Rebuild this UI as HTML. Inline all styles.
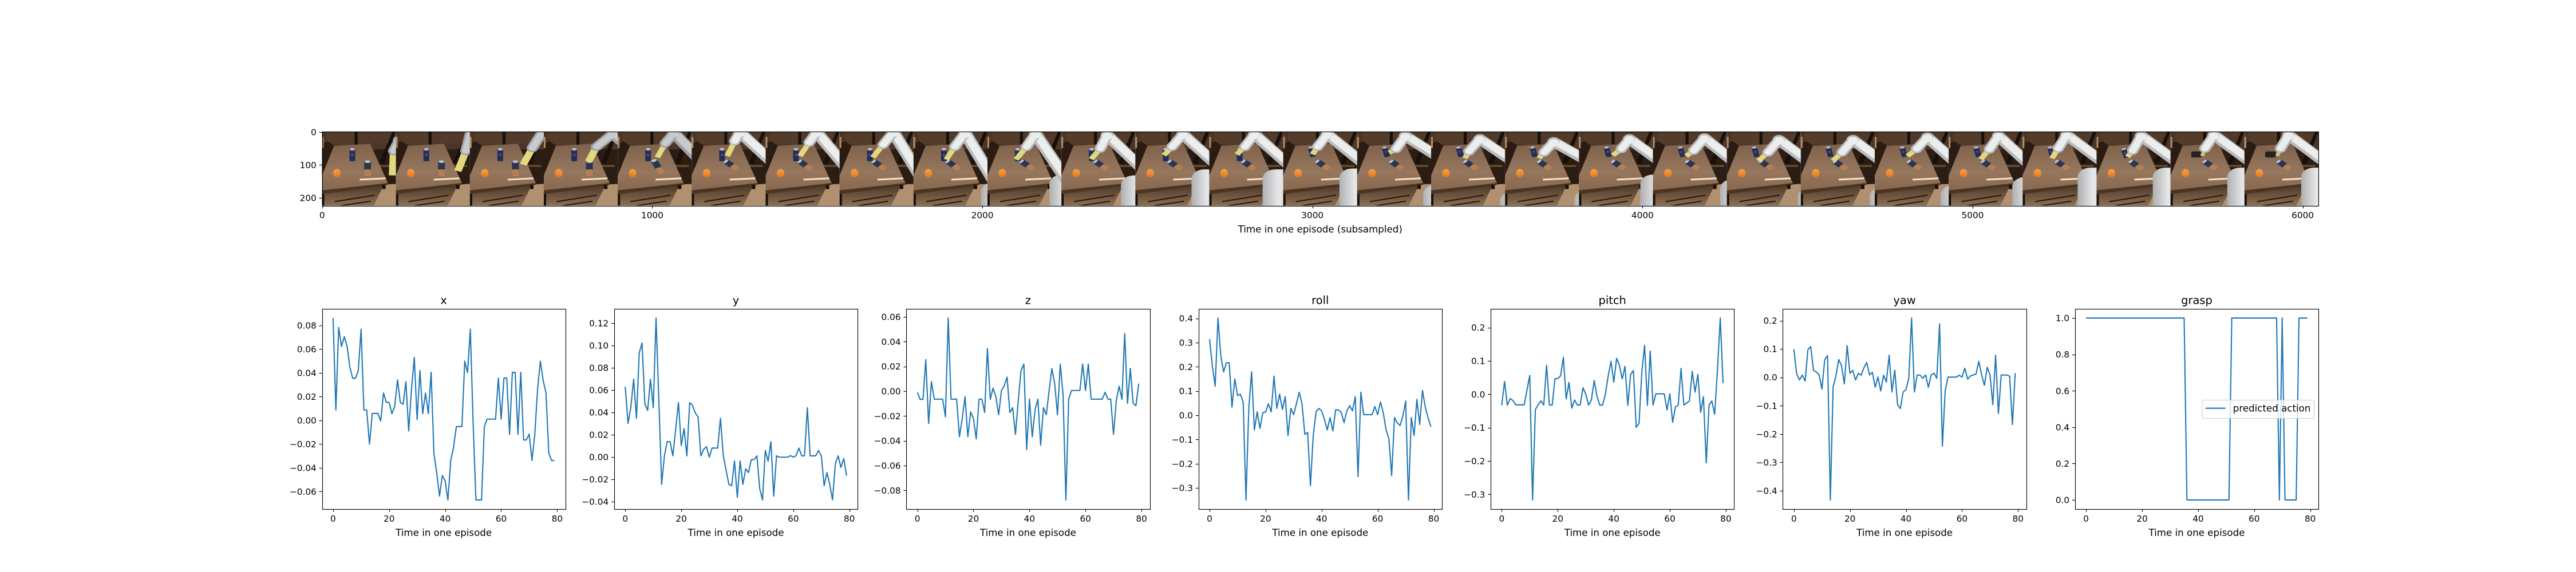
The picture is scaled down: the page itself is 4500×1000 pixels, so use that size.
<!DOCTYPE html>
<html lang="en">
<head>
<meta charset="utf-8">
<title>Predicted actions over one episode</title>
<style>
html,body{margin:0;padding:0;background:#fff;}
svg text{font-family:"DejaVu Sans","Liberation Sans",sans-serif;fill:#000;}
</style>
</head>
<body>
<svg id="figure" xmlns="http://www.w3.org/2000/svg" width="4500" height="1000" viewBox="0 0 4500 1000" style="display:block;background:#fff">
<defs>
<linearGradient id="tableFill" x1="0" y1="0" x2="0" y2="1"><stop offset="0" stop-color="#7f614b"/><stop offset=".6" stop-color="#96775e"/><stop offset="1" stop-color="#87684f"/></linearGradient>
<linearGradient id="drawerFill" x1="0" y1="0" x2="0" y2="1"><stop offset="0" stop-color="#4b3727"/><stop offset="1" stop-color="#8d6f52"/></linearGradient>
<linearGradient id="orangeFill" x1="0" y1="0" x2="0" y2="1"><stop offset="0" stop-color="#f7a03a"/><stop offset=".6" stop-color="#ee8730"/><stop offset="1" stop-color="#c9792f"/></linearGradient>
<linearGradient id="baseFill" x1="0" y1="0" x2="1" y2="0"><stop offset="0" stop-color="#aeb0b2"/><stop offset=".45" stop-color="#e6e7e8"/><stop offset="1" stop-color="#d2d3d5"/></linearGradient>
<g id="scene">
<rect x="0" y="0" width="129" height="173" fill="#4b3526"/>
<rect x="8" y="0" width="48" height="30" fill="#543c2b"/>
<rect x="63" y="0" width="60" height="28" fill="#513a29"/>
<polygon points="0,28 10,22 22,33 0,104" fill="#2a1c12"/>
<rect x="0" y="12" width="3" height="26" fill="#b48c62"/>
<polygon points="88,42 108,40 129,42 129,126 112,126" fill="#2b1d13"/>
<rect x="57" y="0" width="5" height="30" fill="#17100b"/>
<polygon points="123,0 129,0 108,76 100,72" fill="#17100b"/>
<rect x="100" y="78" width="24" height="4" fill="#6e5230"/>
<polygon points="85,125 129,122 129,173 85,173" fill="#b1906f"/>
<polygon points="4,140 108,124 90,173 4,173" fill="url(#drawerFill)"/>
<rect x="0" y="138" width="4" height="35" fill="#17100b"/>
<polygon points="21,33 84,28 115,120 0,138 0,102" fill="url(#tableFill)"/>
<polygon points="0,137 115,120 115,124 100,128 0,146" fill="#4a3423"/>
<polygon points="22,162 92,147 92,150 22,165" fill="#2a1c12"/>
<polygon points="30,172 85,161 85,164 40,173" fill="#2a1c12"/>
<rect x="105" y="124" width="6" height="10" fill="#17100b"/>
<polygon points="66,110 111,107 111,111 66,114" fill="#f3e4c8"/>
<ellipse cx="26" cy="97" rx="6.6" ry="10" fill="url(#orangeFill)"/>
</g>
<g id="canPepsi">
<rect x="-5" y="-15" width="10" height="30" rx="2" fill="#1d2f5c"/>
<ellipse cx="0" cy="-13" rx="4.6" ry="3" fill="#b9bcc2"/>
<ellipse cx="0" cy="0" rx="2.6" ry="3" fill="#7d3a4a"/>
</g>
<g id="canRed">
<rect x="-6" y="-18" width="12" height="36" rx="2" fill="#2a3554"/>
<rect x="-6" y="2" width="12" height="16" rx="2" fill="#b47f55"/>
<ellipse cx="0" cy="-16" rx="5.4" ry="3" fill="#bfc2c6"/>
</g>
</defs>
<rect x="0" y="0" width="4500" height="1000" fill="#ffffff"/>
</svg>
<script>
/* ---------- chart data ---------- */
const categories = [0,1,2,3,4,5,6,7,8,9,10,11,12,13,14,15,16,17,18,19,20,21,22,23,24,25,26,27,28,29,30,31,32,33,34,35,36,37,38,39,40,41,42,43,44,45,46,47,48,49,50,51,52,53,54,55,56,57,58,59,60,61,62,63,64,65,66,67,68,69,70,71,72,73,74,75,76,77,78,79];
const seriesX = [.0862,.0087,.0782,.0622,.0704,.0625,.0447,.0354,.0354,.0418,
.0768,.0087,.0087,-.0200,.0058,.0058,.0058,-.0006,.0231,.0152,
.0151,.0056,.0117,.0341,.0151,.0135,.0325,-.0090,.0263,.0530,
.0006,.0420,.0056,.0231,.0056,.0405,-.0277,-.0442,-.0638,-.0465,
-.0510,-.0671,-.0338,-.0229,-.0053,-.0053,-.0053,.0498,.0402,.0768,
-.0026,-.0671,-.0671,-.0671,-.0053,.0010,.0010,.0010,.0010,.0356,
.0010,.0356,.0356,-.0119,.0404,.0404,-.0119,.0404,-.0165,-.0165,
-.0117,-.0338,-.0122,.0263,.0498,.0335,.0231,-.0277,-.0338,-.0338];
const seriesY = [.0630,.0301,.0446,.0697,.0347,.0933,.1023,.0477,.0417,.0697,
.0441,.1247,.0506,-.0246,.0014,.0138,.0138,.0010,.0249,.0488,
.0102,.0256,.0010,.0488,.0463,.0395,.0360,.0010,.0070,.0092,
-.0002,.0080,.0080,.0080,.0348,.0014,-.0118,-.0246,-.0258,-.0036,
-.0362,-.0036,-.0246,-.0106,-.0140,-.0024,-.0024,.0010,-.0284,-.0386,
.0058,-.0038,.0138,-.0352,.0010,-.0002,-.0002,-.0002,-.0002,.0012,
-.0002,.0012,.0080,.0010,.0010,.0442,.0010,.0010,.0010,.0058,
.0010,-.0258,-.0140,-.0246,-.0386,-.0058,.0010,-.0094,-.0014,-.0167];
const seriesZ = [-.0009,-.0066,-.0066,.0255,-.0261,.0078,-.0064,-.0064,-.0064,-.0064,
-.0207,.0591,-.0064,-.0064,-.0064,-.0367,-.0221,-.0044,-.0367,-.0167,
-.0221,-.0385,-.0064,-.0064,-.0172,.0344,-.0066,.0025,-.0044,-.0190,
.0006,.0044,.0114,-.0172,-.0133,-.0348,-.0075,.0167,.0219,-.0471,
-.0064,-.0367,-.0149,-.0064,-.0436,-.0133,-.0190,.0002,.0183,.0063,
-.0190,.0219,-.0029,-.0878,-.0063,.0006,.0006,.0006,.0006,.0219,
.0006,.0219,-.0064,-.0064,-.0064,-.0064,-.0064,-.0009,-.0064,-.0064,
-.0348,-.0075,.0041,-.0066,.0466,-.0098,.0184,-.0098,-.0117,.0061];
const seriesRoll = [.3137,.2028,.1203,.4017,.2461,.1792,.2170,.2170,.0338,.1502,
.0810,.0873,.0535,-.3498,.0299,.1792,-.0605,.0142,-.0542,.0102,
.0142,.0472,.0142,.1619,.0283,.0873,.0244,.0770,-.0841,.0283,
.0024,.0472,.0951,.0472,-.0786,-.0708,-.2909,-.0841,.0142,.0283,
.0181,-.0173,-.0605,-.0094,-.0645,.0220,.0220,.0118,-.0307,.0181,
.0393,.0181,.0770,-.2531,.0951,.0024,.0024,.0024,.0024,.0362,
.0024,.0550,.0102,-.0605,-.0959,-.2492,-.0094,-.0314,-.0425,-.0031,
.0590,-.3498,-.0094,-.0841,.0653,-.0385,.1022,.0338,-.0110,-.0472];
const seriesPitch = [-.0331,.0382,-.0331,-.0131,-.0188,-.0319,-.0319,-.0319,-.0319,.0125,
.0564,-.3170,-.0462,-.0314,-.0200,-.0325,.0867,-.0325,-.0325,.0468,
.0468,.0553,.1106,-.0143,.0353,-.0416,-.0171,-.0325,-.0325,.0194,
0,-.0325,-.0171,.0410,-.0063,-.0325,-.0325,0,.0553,.0986,
.0365,.1078,.0867,.0456,.0838,-.0331,.0593,.0713,-.0992,-.0872,
.0667,.1465,-.0331,.1294,-.0325,.0011,.0011,.0011,.0011,-.0473,
.0011,-.0844,-.0382,-.0325,.0775,-.0325,-.0262,-.0205,.0684,.0063,
.0593,-.0542,-.0074,-.2058,-.0325,-.0200,-.0599,.0724,.2286,.0331];
const seriesYaw = [.0987,.0107,-.0094,.0081,-.0134,.0980,.1081,.0242,.0188,.0087,
-.0416,.0624,.0765,-.4329,-.0329,.0054,.0631,.0409,-.0235,.1121,
.0141,.0248,-.0094,.0141,.0074,.0342,.0523,.0081,.0181,-.0349,
.0013,-.0483,.0074,-.0168,.0779,-.0517,.0255,-.0966,-.1101,-.0517,
-.0436,-.0040,.2094,-.0517,.0081,.0081,-.0034,.0081,-.0349,.0081,
.0148,-.0034,.1886,-.2430,-.0483,.0007,.0007,.0007,.0007,.0074,
.0007,.0322,-.0060,.0047,.0081,.0114,.0564,.0087,-.0282,.0356,
.0087,-.0966,.0779,-.1275,.0081,.0081,.0081,.0040,-.1664,.0154];
const seriesGrasp = [1,1,1,1,1,1,1,1,1,1,1,1,1,1,1,1,1,1,1,1,1,1,1,1,1,1,1,1,1,1,1,1,1,1,1,1,
0,0,0,0,0,0,0,0,0,0,0,0,0,0,0,0,
1,1,1,1,1,1,1,1,1,1,1,1,1,1,1,1,1,
0,1,0,0,0,0,0,1,1,1,1];
const panelTitles = ["x","y","z","roll","pitch","yaw","grasp"];
const panelSeries = [seriesX,seriesY,seriesZ,seriesRoll,seriesPitch,seriesYaw,seriesGrasp];
const xTicks = [0,20,40,60,80];
const yTicksX = [-0.06,-0.04,-0.02,0,0.02,0.04,0.06,0.08];
const yTicksY = [-0.04,-0.02,0,0.02,0.04,0.06,0.08,0.10,0.12];
const yTicksZ = [-0.08,-0.06,-0.04,-0.02,0,0.02,0.04,0.06];
const yTicksRoll = [-0.3,-0.2,-0.1,0,0.1,0.2,0.3,0.4];
const yTicksPitch = [-0.3,-0.2,-0.1,0,0.1,0.2];
const yTicksYaw = [-0.4,-0.3,-0.2,-0.1,0,0.1,0.2];
const yTicksGrasp = [0,0.2,0.4,0.6,0.8,1];
const panelYTicks = [yTicksX,yTicksY,yTicksZ,yTicksRoll,yTicksPitch,yTicksYaw,yTicksGrasp];
const panelDecimals = [2,2,2,1,1,1,1];
const imageXTicks = [0,1000,2000,3000,4000,5000,6000];
const imageYTicks = [0,100,200];
const imageSpanX = 6048;
const imageSpanY = 224;
const frameSize = 224;
const xAxisLabel = "Time in one episode";
const imageAxisLabel = "Time in one episode (subsampled)";
const legendLabel = "predicted action";
/* robot pose per film-strip frame: elbow, shoulder-edge, wrist, tip, base corner */
const framePoses = [
[135,20,140,30,125,45,123,102,200,200],
[132,-5,136,-20,122,45,108,92,200,200],
[127,0,134,-12,109,38,93,77,200,200],
[120,5,136,22,92,35,78,70,200,200],
[98,3,129,46,83,27,69,60,200,200],
[84,1,129,57,75,22,62,57,200,200],
[89,1,129,65,76,25,60,57,200,200],
[94,1,129,78,76,30,58,60,200,200],
[90,3,129,90,72,35,57,65,118,118],
[84,5,129,95,68,35,50,65,108,100],
[80,8,129,71,68,39,52,64,104,102],
[83,6,129,62,64,35,50,55,98,88],
[79,6,129,66,62,35,48,53,93,88],
[77,6,129,62,60,35,51,53,98,86],
[84,10,129,48,68,40,56,49,115,124],
[85,17,129,57,66,46,59,62,120,140],
[85,24,129,57,68,48,59,62,121,136],
[88,17,129,57,74,40,59,55,107,100],
[90,15,129,57,71,44,58,57,117,111],
[91,19,129,57,72,48,55,68,124,130],
[91,19,129,57,72,48,56,68,120,130],
[92,13,129,57,73,40,57,57,115,125],
[87,10,129,62,71,41,56,64,111,106],
[77,8,129,60,62,39,51,62,96,84],
[78,10,129,60,63,44,54,59,98,84],
[76,8,129,60,60,39,55,57,99,84],
[77,8,129,60,63,39,57,57,99,84]
];

/* ---------- layout ---------- */
const fontTick = 15.28, fontLabel = 16.67, fontTitle = 19.44;
const panelLeft0 = 562.5, panelStep = 510.39, panelW = 425.27, panelTop = 540, panelBottom = 890;
const imgLeft = 562.5, imgRight = 4050, imgTop = 230.4, imgBottom = 359.6;
const tickLen = 4.86, tickWidth = 1.11, spineWidth = 1.11, lineColor = "#1f77b4", lineWidth = 2.08;
const root = document.getElementById("figure");
const NS = "http://www.w3.org/2000/svg";
function mk(tag, attrs, parent) {
  const el = document.createElementNS(NS, tag);
  for (const k in attrs) el.setAttribute(k, attrs[k]);
  parent.appendChild(el);
  return el;
}
function snap(v) { return Math.round(v) + 0.5; }
function fmt(v, d) { return v.toFixed(d).replace("-", "\u2212"); }
function frameBox(parent, left, top, right, bottom) {
  const box = mk("rect", {x: snap(left), y: snap(top), width: snap(right) - snap(left), height: snap(bottom) - snap(top), fill: "none", stroke: "#000", "stroke-width": spineWidth}, parent);
  
  
}
function hTick(parent, xLeft, y, label) {
  const t = mk("line", {x1: xLeft - tickLen, x2: xLeft, y1: snap(y), y2: snap(y), stroke: "#000", "stroke-width": tickWidth}, parent);
  
  
  const s = mk("text", {x: xLeft - tickLen - 4.86, y: y + 5.6, "text-anchor": "end", "font-size": fontTick}, parent);
  s.textContent = label;
  
  
}
function vTick(parent, x, yBottom, label) {
  const t = mk("line", {x1: snap(x), x2: snap(x), y1: yBottom, y2: yBottom + tickLen, stroke: "#000", "stroke-width": tickWidth}, parent);
  
  
  const s = mk("text", {x: x, y: yBottom + 22, "text-anchor": "middle", "font-size": fontTick}, parent);
  s.textContent = label;
  
  
}

/* ---------- film strip ---------- */
const imgG = mk("g", {}, root);


function imgX(v) { return imgLeft + (v + 0.5) / imageSpanX * (imgRight - imgLeft); }
function imgY(v) { return imgTop + (v + 0.5) / imageSpanY * (imgBottom - imgTop); }
framePoses.forEach(function (p, i) {
  const fx = imgX(i * frameSize - 0.5), fw = imgX((i + 1) * frameSize - 0.5) - fx;
  const f = mk("svg", {x: fx, y: imgTop, width: fw, height: imgBottom - imgTop, viewBox: "0 0 129 173", preserveAspectRatio: "none"}, imgG);
  
  
  mk("use", {href: "#scene"}, f);
  /* pepsi can */
  if (i < 25) {
    const tr = i < 13 ? "translate(53 54)" : (i < 24 ? "translate(50 47) rotate(-12) scale(1 .8)" : "translate(50 50) rotate(-15) scale(1 .75)");
    const c = mk("use", {href: "#canPepsi", transform: tr}, f);
    
    
  } else {
    const c = mk("rect", {x: 36, y: 46, width: 19, height: 14, rx: 3, fill: "#222325"}, f);
    
    
  }
  /* red can */
  const redTr = i < 4 ? "translate(79.5 86)" : (i === 4 ? "translate(70 82) rotate(-25)" : "translate(69 78) rotate(-48) scale(1 .8)");
  const rc = mk("use", {href: "#canRed", transform: redTr}, f);
  
  
  /* arm */
  const ex = p[0], ey = p[1], sx = p[2], sy = p[3], wx = p[4], wy = p[5], tx = p[6], ty = p[7], bx = p[8], by = p[9];
  const white = i > 4;
  const shade = white ? "#b9bbbd" : "#9fa2a5";
  const light = white ? "#eceded" : "#c8cacc";
  if (bx < 129) {
    const base = mk("rect", {x: bx, y: by, width: 60, height: 120, rx: 22, ry: 22, fill: "url(#baseFill)"}, f);
    
    
  }
  const dx = sx - ex, dy = sy - ey, len = Math.hypot(dx, dy) || 1;
  const farX = sx + dx / len * 24, farY = sy + dy / len * 24;
  mk("line", {x1: ex, y1: ey, x2: farX, y2: farY, stroke: shade, "stroke-width": 23, "stroke-linecap": "round"}, f);
  mk("line", {x1: ex, y1: ey - 2, x2: farX, y2: farY - 4, stroke: light, "stroke-width": 15, "stroke-linecap": "round"}, f);
  const grip = mk("line", {x1: wx, y1: wy, x2: tx, y2: ty, stroke: i >= 25 ? "#c9c66d" : "#e2d97e", "stroke-width": i >= 25 ? 7 : (i < 4 ? 13 : 10)}, f);
  
  
  mk("line", {x1: ex, y1: ey, x2: wx, y2: wy, stroke: shade, "stroke-width": 20, "stroke-linecap": "round"}, f);
  const arm = mk("line", {x1: ex, y1: ey, x2: wx, y2: wy, stroke: light, "stroke-width": 13, "stroke-linecap": "round"}, f);
  
  
  mk("circle", {cx: ex, cy: ey + 2, r: 9, fill: light}, f);
});
frameBox(imgG, imgLeft, imgTop, imgRight, imgBottom);
imageYTicks.forEach(function (v) { hTick(imgG, imgLeft, imgY(v), String(v)); });
imageXTicks.forEach(function (v) { vTick(imgG, imgX(v), imgBottom, String(v)); });
const imgLab = mk("text", {x: (imgLeft + imgRight) / 2, y: imgBottom + 47, "text-anchor": "middle", "font-size": fontLabel}, imgG);
imgLab.textContent = imageAxisLabel;



/* ---------- line panels ---------- */
panelSeries.forEach(function (values, idx) {
  const left = panelLeft0 + idx * panelStep, right = left + panelW;
  const g = mk("g", {}, root);
  
  
  const cMin = Math.min.apply(null, categories), cMax = Math.max.apply(null, categories);
  const cPad = (cMax - cMin) * 0.05;
  const vMin = Math.min.apply(null, values), vMax = Math.max.apply(null, values);
  const vPad = (vMax - vMin) * 0.05;
  const xScale = function (t) { return left + (t - (cMin - cPad)) / (cMax - cMin + 2 * cPad) * panelW; };
  const yScale = function (v) { return panelBottom - (v - (vMin - vPad)) / (vMax - vMin + 2 * vPad) * (panelBottom - panelTop); };
  const pts = values.map(function (v, i) { return xScale(categories[i]).toFixed(2) + "," + yScale(v).toFixed(2); }).join(" ");
  const line = mk("polyline", {points: pts, fill: "none", stroke: lineColor, "stroke-width": lineWidth, "stroke-linejoin": "round"}, g);
  
  
  frameBox(g, left, panelTop, right, panelBottom);
  panelYTicks[idx].forEach(function (v) { hTick(g, left, yScale(v), fmt(v, panelDecimals[idx])); });
  xTicks.forEach(function (v) { vTick(g, xScale(v), panelBottom, String(v)); });
  const title = mk("text", {x: (left + right) / 2, y: panelTop - 8.33, "text-anchor": "middle", "font-size": fontTitle}, g);
  title.textContent = panelTitles[idx];
  
  
  const xl = mk("text", {x: (left + right) / 2, y: panelBottom + 47, "text-anchor": "middle", "font-size": fontLabel}, g);
  xl.textContent = xAxisLabel;
  
  
  if (idx === panelSeries.length - 1) {
    const lg = mk("g", {}, g);
    
    
    const bx = mk("rect", {x: right - 203, y: 699.5, width: 195.5, height: 32, rx: 2.8, ry: 2.8, fill: "rgba(255,255,255,.8)", stroke: "#cccccc", "stroke-width": 1.11}, lg);
    
    
    const lh = mk("line", {x1: right - 197.5, x2: right - 162.5, y1: 713.7, y2: 713.7, stroke: lineColor, "stroke-width": lineWidth}, lg);
    
    
    const lt = mk("text", {x: right - 149.3, y: 719.7, "font-size": fontLabel}, lg);
    lt.textContent = legendLabel;
    
    
  }
});
</script>
</body>
</html>
